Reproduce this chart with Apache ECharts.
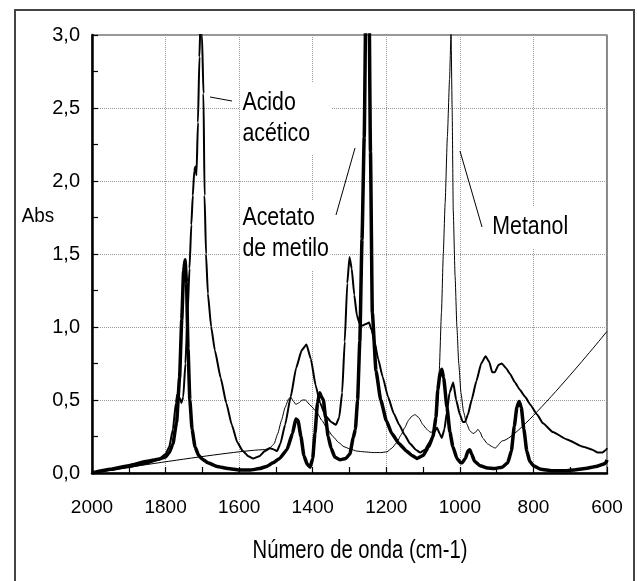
<!DOCTYPE html>
<html><head><meta charset="utf-8">
<script src="https://cdn.jsdelivr.net/npm/echarts@6/dist/echarts.min.js"></script>
<style>html,body{margin:0;padding:0;background:#fff}#c{width:637px;height:581px}</style>
</head><body><div id="c"></div>
<script>
// Acido acético (medium line)
const acidWn = [2000,1950,1900,1850,1820,1800,1790,1780,1772,1768,1763,1757,1752,1746,1740,1735,1730,1726,1722,1719,1716,1712,1708,1705,1701,1697,1694,1690,1685,1676,1666,1650,1635,1620,1605,1590,1575,1562,1545,1530,1516,1505,1497,1488,1475,1460,1445,1430,1417,1405,1392,1380,1365,1350,1337,1328,1320,1313,1306,1300,1294,1287,1280,1272,1265,1256,1247,1240,1232,1222,1210,1195,1180,1165,1150,1135,1120,1108,1095,1080,1070,1062,1055,1049,1042,1035,1028,1018,1010,1000,992,986,978,968,955,942,930,920,912,905,895,886,875,864,850,837,822,809,790,774,747,709,665,640,625,612,602,600];
const acidAbs = [0,0.02,0.04,0.065,0.09,0.13,0.18,0.3,0.48,0.54,0.52,0.48,0.52,0.75,1.1,1.4,1.7,1.9,2.07,2.1,2.04,2.4,2.85,3.1,3.0,2.6,1.9,1.5,1.23,1.0,0.84,0.65,0.48,0.33,0.21,0.15,0.115,0.10,0.115,0.15,0.17,0.16,0.15,0.2,0.33,0.52,0.72,0.84,0.88,0.78,0.6,0.48,0.39,0.35,0.33,0.38,0.55,0.9,1.3,1.48,1.4,1.22,1.08,1.02,1.01,1.02,1.03,0.98,0.9,0.78,0.66,0.52,0.41,0.33,0.26,0.2,0.16,0.14,0.16,0.22,0.28,0.31,0.27,0.24,0.3,0.42,0.55,0.62,0.5,0.4,0.35,0.35,0.4,0.5,0.63,0.75,0.8,0.76,0.69,0.69,0.74,0.75,0.72,0.68,0.62,0.57,0.52,0.47,0.4,0.34,0.28,0.23,0.18,0.16,0.14,0.14,0.16,0.17];
// Acetato de metilo (thick line)
const acetWn = [2000,1950,1900,1850,1820,1800,1790,1780,1770,1762,1756,1751,1747,1743,1739,1734,1728,1720,1710,1700,1685,1660,1630,1600,1570,1545,1525,1508,1490,1470,1455,1446,1440,1432,1424,1415,1407,1400,1394,1387,1381,1376,1371,1365,1358,1350,1340,1326,1310,1299,1290,1284,1278,1272,1266,1260,1254,1248,1243,1238,1228,1215,1200,1185,1165,1145,1130,1117,1100,1085,1073,1065,1060,1054,1049,1044,1035,1027,1019,1008,998,994,985,978,973,968,960,945,925,907,885,870,860,852,845,839,833,826,818,810,800,780,750,720,690,660,630,610,603,600];
const acetAbs = [0,0.025,0.05,0.08,0.095,0.11,0.14,0.2,0.35,0.65,1.05,1.38,1.46,1.3,0.85,0.5,0.3,0.18,0.12,0.095,0.07,0.045,0.03,0.02,0.02,0.03,0.045,0.07,0.1,0.16,0.27,0.37,0.36,0.25,0.12,0.06,0.04,0.1,0.27,0.48,0.55,0.52,0.5,0.38,0.25,0.17,0.11,0.09,0.1,0.13,0.24,0.3,0.5,0.9,1.6,2.3,3.6,3.6,2.2,1.1,0.7,0.5,0.36,0.27,0.2,0.15,0.12,0.10,0.12,0.18,0.25,0.38,0.57,0.68,0.71,0.65,0.45,0.28,0.18,0.1,0.07,0.07,0.1,0.15,0.16,0.13,0.08,0.05,0.035,0.03,0.04,0.07,0.15,0.32,0.45,0.49,0.45,0.3,0.15,0.08,0.05,0.025,0.015,0.015,0.02,0.03,0.045,0.06,0.07,0.09];
// Metanol (thin line)
const metWn = [2000,1530,1515,1505,1495,1485,1475,1465,1460,1452,1446,1438,1428,1420,1405,1390,1375,1360,1345,1330,1315,1299,1280,1260,1236,1215,1198,1185,1171,1160,1150,1140,1130,1122,1112,1100,1090,1081,1075,1068,1062,1056,1050,1045,1040,1034,1028,1024,1021,1018,1013,1008,1003,997,990,982,973,964,957,951,945,938,925,912,904,885,600];
const metAbs = [0,0.16,0.175,0.2,0.27,0.36,0.45,0.51,0.52,0.49,0.47,0.48,0.5,0.5,0.46,0.42,0.36,0.3,0.25,0.21,0.18,0.165,0.15,0.145,0.14,0.14,0.145,0.17,0.21,0.26,0.31,0.36,0.39,0.4,0.38,0.33,0.3,0.28,0.28,0.31,0.4,0.7,1.1,1.5,1.85,2.3,2.7,3.02,2.5,1.8,1.35,1.0,0.75,0.55,0.42,0.34,0.29,0.27,0.28,0.3,0.28,0.24,0.2,0.18,0.17,0.22,0.97];

const FONT = '"Liberation Sans", Arial, sans-serif';
const zip = (a, b) => a.map((x, i) => [x, b[i]]);

const chart = echarts.init(document.getElementById('c'), null, {renderer: 'canvas'});
const lineSeries = (name, wn, ab, w) => ({
  name, type: 'line', data: zip(wn, ab), showSymbol: false, symbol: 'none',
  smooth: 0.15, smoothMonotone: 'x', clip: true,
  lineStyle: {color: '#000', width: w}, z: 3
});

chart.setOption({
  animation: false,
  backgroundColor: '#fff',
  grid: {left: 92, top: 35, right: 30, bottom: 108, show: true, borderColor: '#333', borderWidth: 1.2, backgroundColor: 'transparent'},
  xAxis: {
    type: 'value', inverse: true, min: 600, max: 2000, interval: 200,
    axisLine: {show: true, onZero: false, lineStyle: {color: '#000', width: 2.5}},
    axisTick: {show: true, inside: true, length: 6, lineStyle: {color: '#000', width: 1.2}},
    minorTick: {show: true, splitNumber: 2, length: 6, lineStyle: {color: '#000', width: 1.2}},
    axisLabel: {margin: 25, fontFamily: FONT, fontSize: 19, color: '#000', formatter: v => String(v)},
    splitLine: {show: true, lineStyle: {type: 'dotted', color: '#999', width: 1}}
  },
  yAxis: {
    type: 'value', min: 0, max: 3, interval: 0.5,
    axisLine: {show: true, onZero: false, lineStyle: {color: '#000', width: 2.5}},
    axisTick: {show: true, inside: true, length: 6, lineStyle: {color: '#000', width: 1.2}},
    minorTick: {show: true, splitNumber: 2, length: 6, lineStyle: {color: '#000', width: 1.2}},
    axisLabel: {margin: 12, fontFamily: FONT, fontSize: 20, color: '#000',
      formatter: v => v.toFixed(1).replace('.', ',')},
    splitLine: {show: true, lineStyle: {type: 'dotted', color: '#999', width: 1}}
  },
  series: [
    lineSeries('Metanol', metWn, metAbs, 1),
    lineSeries('Acido acético', acidWn, acidAbs, 2),
    lineSeries('Acetato de metilo', acetWn, acetAbs, 3.5)
  ],
  graphic: [
    {type: 'rect', shape: {x: 15, y: 10, width: 619, height: 620}, style: {fill: 'none', stroke: '#444', lineWidth: 2}, z: 100},
    {type: 'text', x: 240, y: 83, scaleX: 0.82, z: 50, style: {text: 'Acido\nacético', font: '26px ' + FONT, fill: '#000', lineHeight: 31, backgroundColor: '#fff', padding: [4, 26, 6, 3]}},
    {type: 'text', x: 240, y: 200, scaleX: 0.82, z: 50, style: {text: 'Acetato\nde metilo', font: '26px ' + FONT, fill: '#000', lineHeight: 30.5, backgroundColor: '#fff', padding: [3, 2, 6, 3]}},
    {type: 'text', x: 489, y: 206, scaleX: 0.82, z: 50, style: {text: 'Metanol', font: '26px ' + FONT, fill: '#000', lineHeight: 31, backgroundColor: '#fff', padding: [5, 6, 6, 4]}},
    {type: 'line', shape: {x1: 210, y1: 97, x2: 232, y2: 101}, style: {stroke: '#000', lineWidth: 1}, z: 60},
    {type: 'line', shape: {x1: 355, y1: 148, x2: 336, y2: 215}, style: {stroke: '#000', lineWidth: 1}, z: 60},
    {type: 'line', shape: {x1: 460, y1: 151, x2: 482, y2: 227}, style: {stroke: '#000', lineWidth: 1}, z: 60},
    {type: 'text', x: 38, y: 216, scaleX: 0.9, z: 50, style: {text: 'Abs', font: '21px ' + FONT, fill: '#000', textAlign: 'center', textVerticalAlign: 'middle'}},
    {type: 'text', x: 360, y: 551, scaleX: 0.81, z: 50, style: {text: 'Número de onda (cm-1)', font: '25px ' + FONT, fill: '#000', textAlign: 'center', textVerticalAlign: 'middle'}}
  ]
});
</script></body></html>
